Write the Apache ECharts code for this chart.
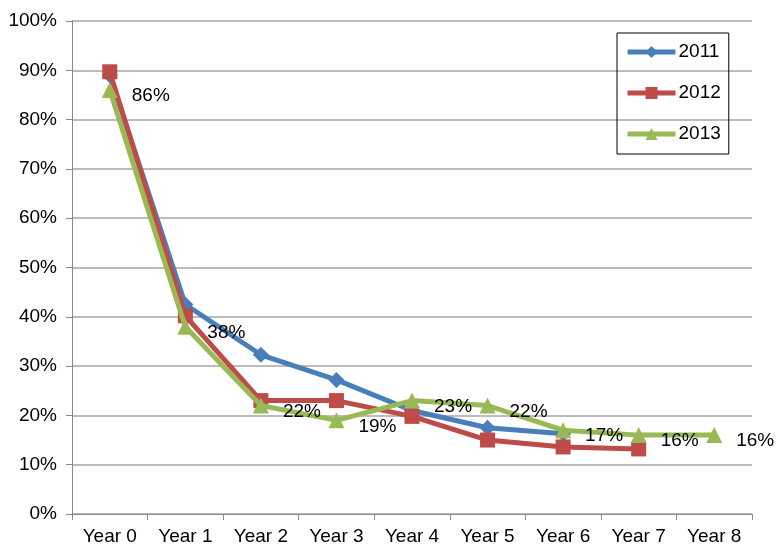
<!DOCTYPE html>
<html>
<head>
<meta charset="utf-8">
<script src="https://cdn.jsdelivr.net/npm/echarts@6/dist/echarts.min.js"></script>
<style>
  html, body { margin: 0; padding: 0; background: #fff; }
  #chart { width: 776px; height: 549px; }
</style>
</head>
<body>
<div id="chart"></div>
<script>
// Retention share by year since start, per cohort
const categories = ['Year 0', 'Year 1', 'Year 2', 'Year 3', 'Year 4', 'Year 5', 'Year 6', 'Year 7', 'Year 8'];
const cohort2011 = [89, 42.5, 32.3, 27.2, 21, 17.5, 16.3, null, null];
const cohort2012 = [89.7, 40.2, 23, 23, 19.8, 15, 13.6, 13.2, null];
const cohort2013 = [86, 38, 22, 19, 23, 22, 17, 16, 16];
const yTicks = [0, 10, 20, 30, 40, 50, 60, 70, 80, 90, 100];

const font = 'Liberation Sans';
const colors = { '2011': '#4a7ebb', '2012': '#be4b48', '2013': '#98b954' };
const chart = echarts.init(document.getElementById('chart'));

chart.setOption({
  animation: false,
  textStyle: { fontFamily: font },
  grid: { left: 72, right: 24, top: 21, bottom: 35 },
  legend: {
    orient: 'vertical',
    left: 617,
    top: 33,
    padding: [9, 8, 10, 8],
    itemGap: 21,
    itemWidth: 48,
    itemHeight: 15,
    borderColor: '#000',
    borderWidth: 1,
    textStyle: { fontSize: 19, lineHeight: 20, color: '#000', fontFamily: font, padding: [0, 0, 0, -2] },
    lineStyle: { width: 5 },
    data: ['2011', '2012', '2013']
  },
  xAxis: {
    type: 'category',
    data: categories,
    boundaryGap: true,
    axisLine: { lineStyle: { color: '#888', width: 1 } },
    axisTick: { show: true, length: 6, lineStyle: { color: '#888' } },
    axisLabel: { fontSize: 19, color: '#000', margin: 13 }
  },
  yAxis: {
    type: 'value',
    min: yTicks[0],
    max: yTicks[yTicks.length - 1],
    interval: 10,
    axisLine: { show: true, lineStyle: { color: '#888', width: 1 } },
    axisTick: { show: true, length: 6, lineStyle: { color: '#888' } },
    axisLabel: { fontSize: 19, color: '#000', margin: 15, formatter: v => v + '%' },
    splitLine: { lineStyle: { color: '#a6a6a6', width: 1.5 } }
  },
  series: [
    {
      name: '2011',
      type: 'line',
      data: cohort2011,
      symbol: 'diamond',
      symbolSize: 16,
      lineStyle: { width: 5, color: colors['2011'] },
      itemStyle: { color: colors['2011'] },
      z: 2
    },
    {
      name: '2012',
      type: 'line',
      data: cohort2012,
      symbol: 'rect',
      symbolSize: 15,
      lineStyle: { width: 5, color: colors['2012'] },
      itemStyle: { color: colors['2012'] },
      z: 3
    },
    {
      name: '2013',
      type: 'line',
      data: cohort2013,
      symbol: 'triangle',
      symbolSize: 16,
      lineStyle: { width: 5, color: colors['2013'] },
      itemStyle: { color: colors['2013'] },
      z: 4,
      label: {
        show: true,
        position: 'right',
        distance: 14,
        offset: [0, 6],
        fontSize: 19,
        color: '#000',
        fontFamily: font,
        formatter: p => Math.round(p.value) + '%'
      }
    }
  ]
});
</script>
</body>
</html>
